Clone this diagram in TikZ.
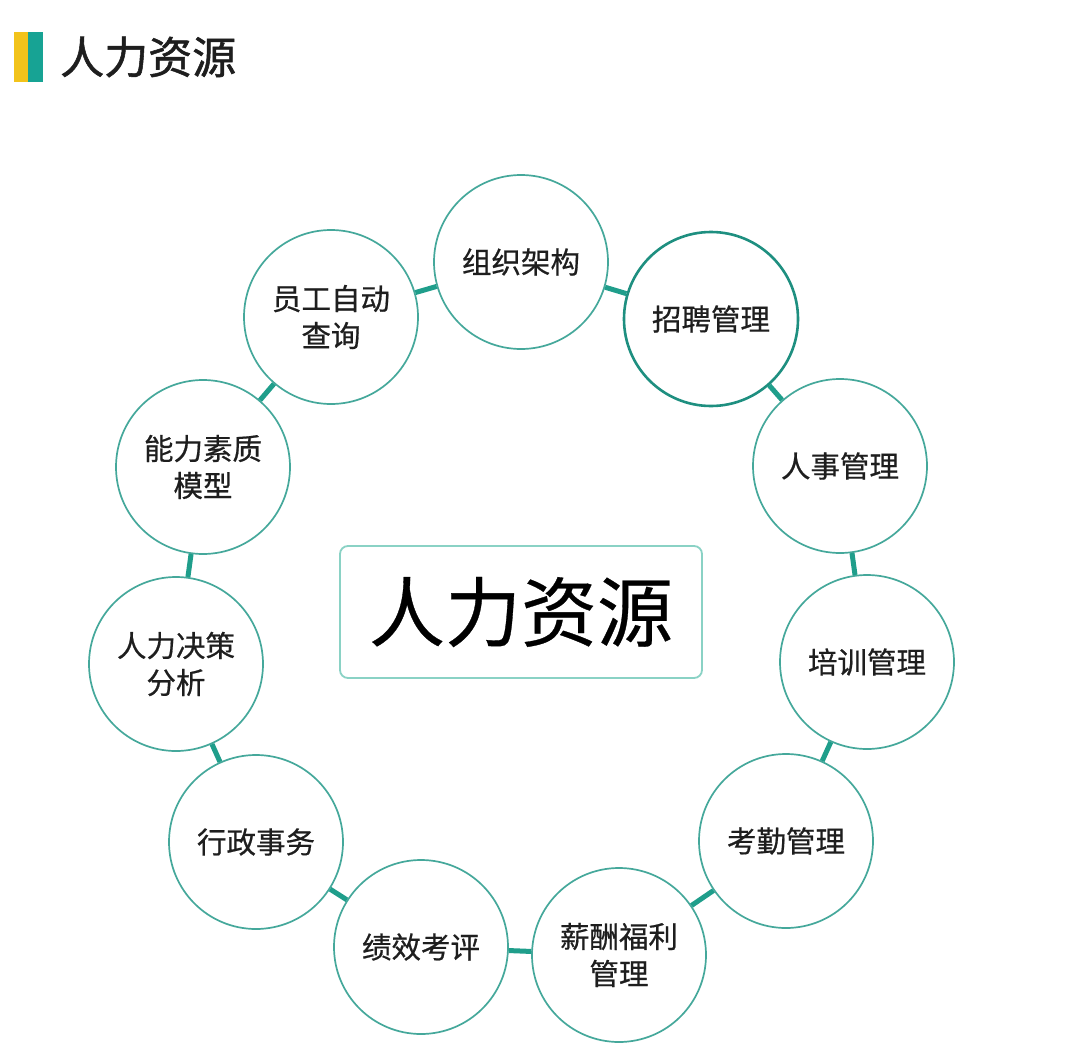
\documentclass[tikz,border=0pt]{standalone}
\usepackage{fontspec}
\setmainfont{Noto Sans CJK SC}
\newfontfamily\cjk[FakeBold=0.6]{Noto Sans CJK SC}
\newfontfamily\cjkhead[FakeBold=1.2]{Noto Sans CJK SC}
\newfontfamily\cjkbig[FakeBold=0.4]{Noto Sans CJK SC}
\definecolor{ringc}{HTML}{45A89B}
\definecolor{ringdark}{HTML}{1E8F80}
\definecolor{linkc}{HTML}{1F9E8B}
\definecolor{boxc}{HTML}{8AD2C5}
\definecolor{barY}{HTML}{F2C31B}
\definecolor{barT}{HTML}{17A394}
\definecolor{txt}{HTML}{1E1E1E}
\begin{document}
\begin{tikzpicture}[x=1pt,y=-1pt,
  topic/.style={circle,draw=ringc,line width=1.7pt,minimum size=174pt,inner sep=0pt,align=center,
    font=\cjk\fontsize{29.5}{37}\selectfont,text=txt,fill=white},
  link/.style={draw=linkc,line width=5pt}]
\useasboundingbox[fill=white] (0,0) rectangle (1080,1055);
% header
\fill[barY] (14,32) rectangle (28,82);
\fill[barT] (28,32) rectangle (43,82);
\node[anchor=west,font=\cjkhead\fontsize{44}{48}\selectfont,text=txt,inner sep=0pt] (head) at (60,57) {人力资源};
% circles
\node[topic] (c1) at (521,262) {组织架构};
\node[topic,draw=ringdark,line width=2.6pt] (c2) at (711,319) {招聘管理};
\node[topic] (c3) at (840,466) {人事管理};
\node[topic] (c4) at (867,662) {培训管理};
\node[topic] (c5) at (786,841) {考勤管理};
\node[topic] (c6) at (619,955) {薪酬福利\\管理};
\node[topic] (c7) at (421,947) {绩效考评};
\node[topic] (c8) at (256,842) {行政事务};
\node[topic] (c9) at (176,664) {人力决策\\分析};
\node[topic] (c10) at (203,467) {能力素质\\模型};
\node[topic] (c11) at (331,317) {员工自动\\查询};
% connectors
\foreach \a/\b in {c1/c2,c2/c3,c3/c4,c4/c5,c5/c6,c6/c7,c7/c8,c8/c9,c9/c10,c10/c11,c11/c1}
  \draw[link] (\a) -- (\b);
% center box
\node[draw=boxc,line width=1.8pt,rounded corners=8pt,minimum width=362pt,minimum height=132pt,
  inner sep=0pt,font=\cjkbig\fontsize{76}{80}\selectfont,text=black] (center) at (521,612) {人力资源};
\end{tikzpicture}
\end{document}
